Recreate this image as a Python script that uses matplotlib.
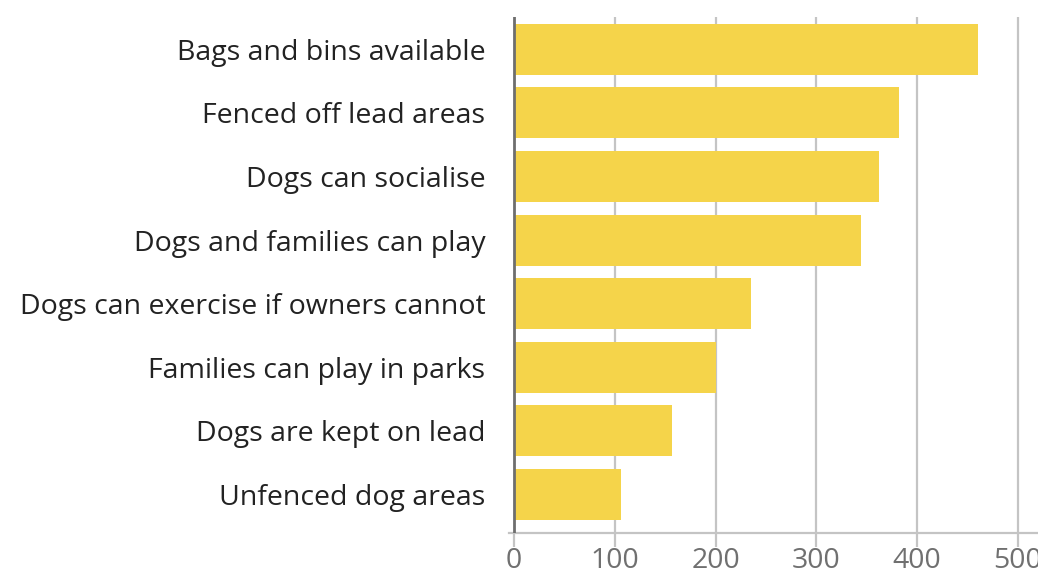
import matplotlib
matplotlib.use('Agg')
import matplotlib.pyplot as plt

categories = [
    'Bags and bins available',
    'Fenced off lead areas',
    'Dogs can socialise',
    'Dogs and families can play',
    'Dogs can exercise if owners cannot',
    'Families can play in parks',
    'Dogs are kept on lead',
    'Unfenced dog areas',
]
values = [460, 382, 362, 344, 235, 200, 157, 106]
xticks = [0, 100, 200, 300, 400, 500]

plt.rcParams['font.family'] = ['Open Sans', 'DejaVu Sans']

fig = plt.figure(figsize=(10.38, 5.73), dpi=100)
ax = fig.add_axes([509 / 1038, 40 / 573, 529 / 1038, 516.5 / 573])

ypos = list(range(len(categories)))
ax.barh(ypos, values, height=0.8, color='#F5D44A', zorder=3)

ax.set_xlim(-5, 520)
ax.set_ylim(7.605, -0.516)

# gridlines and zero line
for t in xticks[1:]:
    ax.axvline(t, color='#c4c4c4', lw=1.6, zorder=1)
ax.axvline(0, color='#6e6e6e', lw=2, zorder=4)

for s in ['top', 'right', 'left']:
    ax.spines[s].set_visible(False)
ax.spines['bottom'].set_color('#c4c4c4')
ax.spines['bottom'].set_linewidth(1.6)

ax.set_xticks(xticks)
ax.set_xticklabels([str(t) for t in xticks])
ax.tick_params(axis='x', length=10, width=1.6, color='#c4c4c4',
               labelsize=20.5, labelcolor='#707070', pad=0)

ax.set_yticks(ypos)
ax.set_yticklabels(categories)
ax.tick_params(axis='y', length=0, labelsize=20.5, labelcolor='#222222', pad=17)

fig.savefig('out.png', dpi=100)
